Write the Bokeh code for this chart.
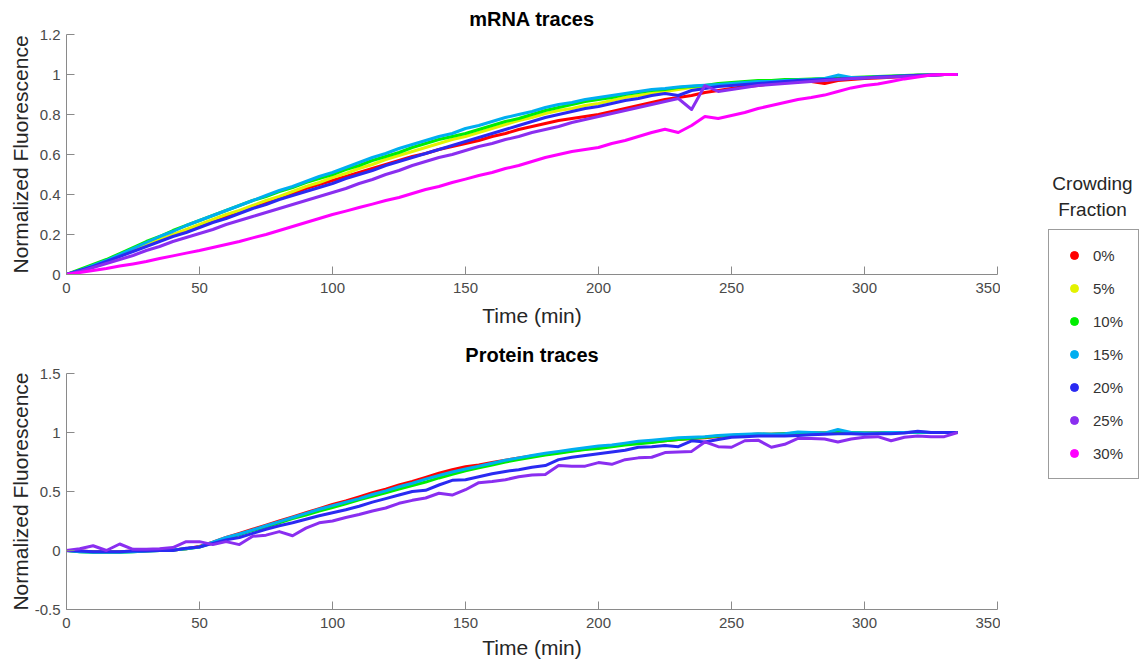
from bokeh.plotting import figure
from bokeh.models import (FixedTicker, CustomJSTickFormatter, Legend, LegendItem,
                          Label, Range1d)
from bokeh.layouts import row, column
from bokeh.embed import file_html
from bokeh.resources import INLINE

FONT = "Liberation Sans"

# ---------------- data ----------------
time_min = list(range(0, 340, 5))  # 0 .. 335 min, 5-min sampling

crowding_labels = ["0%", "5%", "10%", "15%", "20%", "25%", "30%"]
crowding_colors = ["#ff0000", "#e3f200", "#00ee00", "#00aef0", "#2a2af2", "#8a2ef0", "#ff00ff"]

mrna_0 = [0, 0.02, 0.045, 0.07, 0.095, 0.12, 0.145, 0.17, 0.195, 0.22, 0.245, 0.27, 0.29, 0.315, 0.34,
          0.36, 0.385, 0.405, 0.43, 0.45, 0.47, 0.49, 0.51, 0.53, 0.55, 0.57, 0.59, 0.605, 0.625, 0.64,
          0.655, 0.67, 0.69, 0.705, 0.725, 0.74, 0.755, 0.77, 0.78, 0.79, 0.80, 0.815, 0.83, 0.845,
          0.86, 0.875, 0.885, 0.895, 0.91, 0.92, 0.93, 0.94, 0.945, 0.955, 0.96, 0.965, 0.965, 0.955,
          0.97, 0.975, 0.98, 0.983, 0.986, 0.99, 0.994, 0.997, 1.0, 1.0]
mrna_5 = [0, 0.02, 0.045, 0.07, 0.095, 0.12, 0.15, 0.175, 0.2, 0.225, 0.25, 0.275, 0.3, 0.32, 0.345,
          0.37, 0.39, 0.415, 0.44, 0.46, 0.485, 0.505, 0.53, 0.55, 0.575, 0.595, 0.615, 0.635, 0.655,
          0.675, 0.69, 0.71, 0.73, 0.75, 0.77, 0.785, 0.805, 0.82, 0.83, 0.845, 0.855, 0.87, 0.885,
          0.895, 0.905, 0.915, 0.925, 0.935, 0.94, 0.95, 0.955, 0.96, 0.965, 0.967, 0.97, 0.972, 0.975,
          0.978, 0.98, 0.983, 0.985, 0.988, 0.99, 0.993, 0.996, 0.998, 1.0, 1.0]
mrna_10 = [0, 0.025, 0.05, 0.075, 0.105, 0.135, 0.165, 0.19, 0.22, 0.245, 0.27, 0.295, 0.32, 0.345,
           0.37, 0.39, 0.415, 0.435, 0.46, 0.48, 0.50, 0.525, 0.545, 0.57, 0.59, 0.61, 0.635, 0.655,
           0.675, 0.69, 0.705, 0.725, 0.745, 0.765, 0.78, 0.80, 0.82, 0.835, 0.85, 0.865, 0.875, 0.885,
           0.9, 0.91, 0.92, 0.925, 0.935, 0.94, 0.945, 0.955, 0.96, 0.965, 0.97, 0.97, 0.975, 0.975,
           0.978, 0.98, 0.982, 0.985, 0.987, 0.99, 0.992, 0.995, 0.997, 0.998, 1.0, 1.0]
mrna_15 = [0, 0.02, 0.045, 0.07, 0.1, 0.13, 0.16, 0.19, 0.215, 0.245, 0.27, 0.295, 0.32, 0.345, 0.37,
           0.395, 0.42, 0.44, 0.465, 0.49, 0.51, 0.535, 0.56, 0.585, 0.605, 0.63, 0.65, 0.67, 0.69,
           0.705, 0.73, 0.745, 0.765, 0.785, 0.80, 0.815, 0.835, 0.85, 0.86, 0.875, 0.885, 0.895, 0.905,
           0.915, 0.925, 0.93, 0.937, 0.942, 0.946, 0.95, 0.955, 0.96, 0.965, 0.965, 0.97, 0.972, 0.975,
           0.98, 0.997, 0.985, 0.985, 0.988, 0.99, 0.993, 0.995, 0.997, 1.0, 1.0]
mrna_20 = [0, 0.02, 0.04, 0.065, 0.09, 0.115, 0.14, 0.165, 0.19, 0.21, 0.235, 0.26, 0.28, 0.305, 0.33,
           0.35, 0.375, 0.395, 0.415, 0.435, 0.455, 0.48, 0.5, 0.52, 0.545, 0.565, 0.585, 0.605, 0.625,
           0.645, 0.665, 0.685, 0.705, 0.725, 0.745, 0.765, 0.785, 0.80, 0.815, 0.83, 0.84, 0.855, 0.87,
           0.88, 0.895, 0.905, 0.895, 0.92, 0.93, 0.94, 0.945, 0.95, 0.955, 0.96, 0.965, 0.97, 0.972,
           0.975, 0.978, 0.98, 0.983, 0.987, 0.99, 0.993, 0.996, 0.998, 1.0, 1.0]
mrna_25 = [0, 0.015, 0.035, 0.055, 0.075, 0.095, 0.12, 0.14, 0.165, 0.185, 0.205, 0.225, 0.25, 0.27,
           0.29, 0.31, 0.33, 0.35, 0.37, 0.39, 0.41, 0.43, 0.455, 0.475, 0.5, 0.52, 0.545, 0.565, 0.585,
           0.6, 0.62, 0.64, 0.655, 0.675, 0.69, 0.71, 0.725, 0.74, 0.76, 0.775, 0.79, 0.805, 0.82, 0.835,
           0.85, 0.865, 0.88, 0.825, 0.945, 0.915, 0.925, 0.935, 0.945, 0.95, 0.955, 0.96, 0.965, 0.97,
           0.975, 0.98, 0.982, 0.985, 0.988, 0.99, 0.993, 0.996, 1.0, 1.0]
mrna_30 = [0, 0.01, 0.02, 0.03, 0.042, 0.053, 0.065, 0.08, 0.093, 0.107, 0.12, 0.135, 0.15, 0.165,
           0.183, 0.2, 0.22, 0.24, 0.26, 0.28, 0.30, 0.317, 0.335, 0.352, 0.37, 0.385, 0.405, 0.425,
           0.44, 0.46, 0.477, 0.495, 0.51, 0.53, 0.545, 0.565, 0.585, 0.60, 0.615, 0.625, 0.635, 0.655,
           0.67, 0.69, 0.71, 0.726, 0.71, 0.745, 0.79, 0.78, 0.795, 0.81, 0.83, 0.845, 0.86, 0.875,
           0.885, 0.897, 0.915, 0.933, 0.945, 0.953, 0.965, 0.978, 0.988, 0.997, 1.0, 1.0]

protein_0 = [0, -0.005, -0.01, -0.01, -0.01, -0.005, 0.0, 0.0, 0.005, 0.015, 0.035, 0.07, 0.11, 0.145,
             0.18, 0.215, 0.25, 0.285, 0.32, 0.355, 0.39, 0.42, 0.455, 0.49, 0.52, 0.555, 0.585, 0.62,
             0.655, 0.685, 0.71, 0.725, 0.745, 0.765, 0.785, 0.80, 0.815, 0.83, 0.845, 0.86, 0.875,
             0.885, 0.9, 0.91, 0.92, 0.93, 0.94, 0.95, 0.955, 0.965, 0.975, 0.98, 0.985, 0.985, 0.99,
             0.99, 0.995, 0.995, 1.0, 0.995, 0.995, 0.995, 1.0, 1.0, 1.0, 1.0, 1.0, 1.0]
protein_10 = [0, -0.01, -0.015, -0.015, -0.015, -0.01, -0.005, 0.0, 0.005, 0.015, 0.03, 0.065, 0.1,
              0.135, 0.17, 0.2, 0.235, 0.27, 0.3, 0.335, 0.365, 0.395, 0.43, 0.46, 0.49, 0.52, 0.55,
              0.58, 0.615, 0.645, 0.675, 0.7, 0.725, 0.75, 0.77, 0.79, 0.81, 0.825, 0.84, 0.855, 0.865,
              0.88, 0.895, 0.905, 0.915, 0.93, 0.94, 0.95, 0.96, 0.97, 0.975, 0.98, 0.985, 0.985, 0.99,
              0.995, 0.995, 0.995, 1.0, 1.0, 0.995, 0.995, 1.0, 1.0, 1.0, 1.0, 1.0, 1.0]
protein_15 = [0, -0.01, -0.015, -0.015, -0.015, -0.01, -0.005, 0.0, 0.005, 0.015, 0.03, 0.07, 0.11,
              0.14, 0.175, 0.21, 0.245, 0.28, 0.315, 0.35, 0.38, 0.41, 0.44, 0.475, 0.505, 0.54, 0.57,
              0.605, 0.635, 0.665, 0.69, 0.715, 0.74, 0.765, 0.785, 0.805, 0.825, 0.84, 0.855, 0.87,
              0.885, 0.895, 0.91, 0.925, 0.935, 0.945, 0.955, 0.96, 0.965, 0.975, 0.98, 0.985, 0.99,
              0.985, 0.99, 1.005, 1.0, 0.995, 1.025, 1.0, 0.995, 0.995, 1.0, 1.0, 1.005, 1.0, 1.0, 1.0]
protein_20 = [0, -0.005, -0.01, -0.01, -0.01, -0.005, -0.005, 0.0, 0.0, 0.02, 0.03, 0.06, 0.09, 0.11,
              0.145, 0.18, 0.21, 0.235, 0.265, 0.295, 0.32, 0.345, 0.375, 0.41, 0.44, 0.47, 0.50, 0.51,
              0.555, 0.595, 0.60, 0.625, 0.65, 0.67, 0.685, 0.705, 0.72, 0.77, 0.79, 0.805, 0.82, 0.835,
              0.85, 0.875, 0.88, 0.89, 0.88, 0.93, 0.92, 0.94, 0.96, 0.965, 0.97, 0.97, 0.97, 0.975,
              0.98, 0.985, 0.99, 0.99, 0.985, 0.99, 0.99, 0.995, 1.01, 1.0, 1.0, 1.0]
protein_25 = [0, 0.015, 0.04, 0.0, 0.055, 0.01, 0.01, 0.015, 0.025, 0.075, 0.075, 0.05, 0.075, 0.05,
              0.12, 0.13, 0.16, 0.125, 0.19, 0.235, 0.25, 0.28, 0.305, 0.335, 0.36, 0.40, 0.425, 0.445,
              0.485, 0.47, 0.515, 0.575, 0.585, 0.60, 0.625, 0.64, 0.645, 0.72, 0.715, 0.715, 0.745,
              0.73, 0.77, 0.785, 0.79, 0.83, 0.835, 0.84, 0.92, 0.88, 0.875, 0.93, 0.935, 0.875, 0.90,
              0.95, 0.95, 0.945, 0.92, 0.945, 0.96, 0.965, 0.93, 0.96, 0.97, 0.965, 0.965, 1.0]

mrna_series = [mrna_0, mrna_5, mrna_10, mrna_15, mrna_20, mrna_25, mrna_30]
# protein traces visible for 0%, 10%, 15%, 20%, 25%
protein_series = {0: protein_0, 2: protein_10, 3: protein_15, 4: protein_20, 5: protein_25}

x_ticks = [0, 50, 100, 150, 200, 250, 300, 350]
mrna_yticks = [0, 0.2, 0.4, 0.6, 0.8, 1.0, 1.2]
protein_yticks = [-0.5, 0, 0.5, 1.0, 1.5]

AXIS_COLOR = "#8a8a8a"
TICK_LABEL_COLOR = "#4a4a4a"
LABEL_COLOR = "#262626"


def make_panel(title, y_start, y_end, yticks, height, border_top, border_bottom,
               title_standoff, ylabel_standoff, xlabel_standoff):
    p = figure(width=1000, height=height, x_range=Range1d(0, 350), y_range=Range1d(y_start, y_end),
               toolbar_location=None, output_backend="svg",
               min_border_left=66, min_border_right=3,
               min_border_top=border_top, min_border_bottom=border_bottom)
    p.outline_line_color = None
    p.grid.visible = False
    p.background_fill_color = "white"
    p.border_fill_color = "white"
    p.title.text = title
    p.title.align = "center"
    p.title.text_font = FONT
    p.title.text_font_size = "20px"
    p.title.text_font_style = "bold"
    p.title.text_color = "#000000"
    p.title.standoff = title_standoff
    for ax in (p.xaxis[0], p.yaxis[0]):
        ax.axis_line_color = AXIS_COLOR
        ax.major_tick_line_color = AXIS_COLOR
        ax.major_tick_in = 8
        ax.major_tick_out = 0
        ax.minor_tick_line_color = None
        ax.major_label_text_font = FONT
        ax.major_label_text_font_size = "15px"
        ax.major_label_text_color = TICK_LABEL_COLOR
        ax.axis_label_text_font = FONT
        ax.axis_label_text_font_size = "21px"
        ax.axis_label_text_font_style = "normal"
        ax.axis_label_text_color = LABEL_COLOR
    p.xaxis.ticker = FixedTicker(ticks=x_ticks)
    p.yaxis.ticker = FixedTicker(ticks=yticks)
    p.yaxis.formatter = CustomJSTickFormatter(code="return String(Math.round(tick*10)/10);")
    p.xaxis.axis_label = "Time (min)"
    p.yaxis.axis_label = "Normalized Fluorescence"
    p.xaxis.major_label_standoff = 8
    p.yaxis.major_label_standoff = 6
    p.xaxis.axis_label_standoff = xlabel_standoff
    p.yaxis.axis_label_standoff = ylabel_standoff
    return p


top = make_panel("mRNA traces", 0, 1.2, mrna_yticks, 333, 34, 59, 9, 5, 8)
for vals, col in zip(mrna_series, crowding_colors):
    top.line(time_min, vals, line_color=col, line_width=3, line_join="round")

bottom = make_panel("Protein traces", -0.5, 1.5, protein_yticks, 334, 40, 58, 15, 0, 5)
for idx, vals in protein_series.items():
    bottom.line(time_min, vals, line_color=crowding_colors[idx], line_width=3, line_join="round")

# legend panel
leg = figure(width=140, height=667, x_range=Range1d(0, 1), y_range=Range1d(0, 1),
             toolbar_location=None, output_backend="svg",
             min_border=0, min_border_left=0, min_border_right=0,
             min_border_top=0, min_border_bottom=0)
leg.axis.visible = False
leg.grid.visible = False
leg.outline_line_color = None
items = []
for lab, col in zip(crowding_labels, crowding_colors):
    r = leg.scatter(x=[-5], y=[-5], marker="circle", size=12, fill_color=col, line_color=col)
    items.append(LegendItem(label=lab, renderers=[r]))
legend = Legend(items=items, location=(48, 188), orientation="vertical",
                border_line_color="#3a3a3a", border_line_width=1,
                background_fill_color="white", background_fill_alpha=1,
                label_text_font=FONT, label_text_font_size="15px", label_text_color="#333333",
                glyph_width=20, glyph_height=20, label_height=20, spacing=13,
                padding=15, margin=0, label_standoff=9)
leg.add_layout(legend, "center")
for txt, yy in (("Crowding", 484), ("Fraction", 458)):
    leg.add_layout(Label(x=92, y=yy, x_units="screen", y_units="screen", text=txt,
                         text_align="center", text_baseline="middle", text_font=FONT,
                         text_font_size="19px", text_color="#262626"))

layout = row(column(top, bottom), leg)
open("out.html", "w").write(file_html(layout, INLINE))
